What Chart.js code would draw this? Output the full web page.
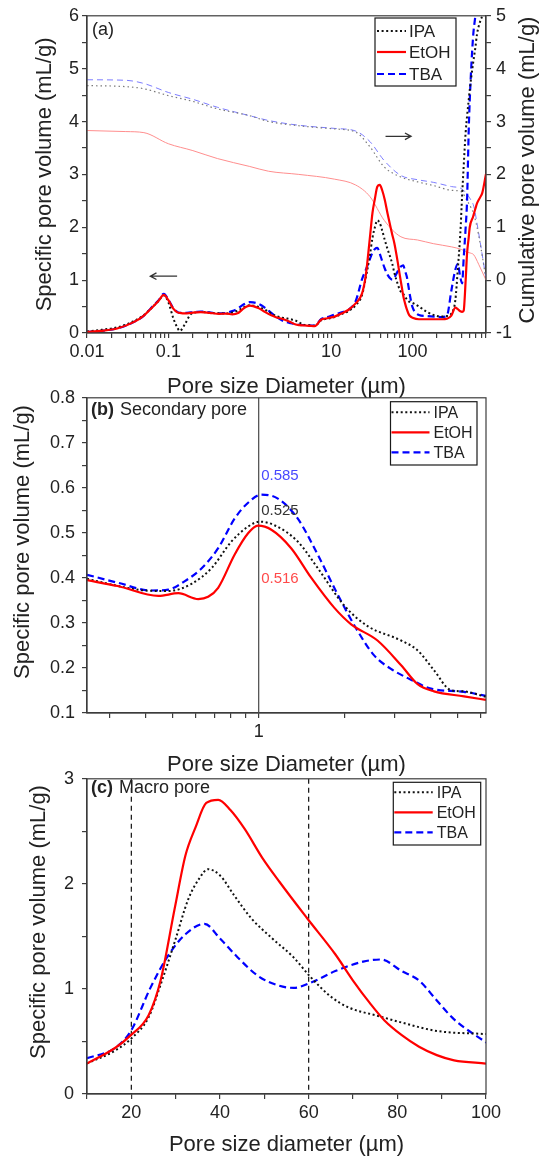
<!DOCTYPE html>
<html>
<head>
<meta charset="utf-8">
<title>Pore size distribution</title>
<script src="https://cdn.jsdelivr.net/npm/chart.js@4.4.0/dist/chart.umd.min.js"></script>
<style>
  html, body { margin: 0; padding: 0; background: #fff; }
  body { width: 548px; height: 1157px; overflow: hidden; position: relative; }
  canvas { position: absolute; left: 0; }
</style>
</head>
<body>
<canvas id="chartA" width="548" height="400" style="top:0px"></canvas>
<canvas id="chartB" width="548" height="400" style="top:380px"></canvas>
<canvas id="chartC" width="548" height="400" style="top:760px"></canvas>
<script>
// ---------- panel (a): full range, log x ----------
const aSize = [0.01, 0.015, 0.024, 0.038, 0.05, 0.061, 0.075, 0.088, 0.1, 0.115, 0.129, 0.138, 0.16, 0.189, 0.22,
  0.25, 0.32, 0.42, 0.52, 0.61, 0.72, 0.82, 0.92, 1.0, 1.1, 1.3, 1.53, 1.84, 2.1, 2.6, 3.2, 3.6, 4.1, 4.7, 5.4, 6.3,
  7.5, 9, 11, 13.5, 16.4, 20, 24, 26.6, 29.8, 32.2, 34.5, 37, 39.6, 42.4, 45.6, 49.5, 53.4, 56.6, 60, 66, 70, 74, 77, 81, 85, 89, 93, 100,
  120, 150, 190, 230, 265, 300, 336, 360, 387, 407, 425, 450, 468, 490, 505, 555, 592, 620, 680, 720, 800];
const aIPA = [0.03, 0.06, 0.11, 0.23, 0.34, 0.46, 0.60, 0.71, 0.58, 0.28, 0.10, 0.04, 0.17, 0.36, 0.39,
  0.398, 0.382, 0.372, 0.371, 0.387, 0.425, 0.479, 0.514, 0.525, 0.518, 0.492, 0.445, 0.370, 0.322, 0.285, 0.260, 0.240, 0.196, 0.151, 0.147, 0.136,
  0.24, 0.27, 0.30, 0.36, 0.415, 0.525, 0.72, 1.04, 1.45, 1.80, 2.00, 2.13, 2.08, 1.94, 1.76, 1.58, 1.43, 1.30, 1.13, 0.92, 0.81, 0.76, 0.74, 0.68, 0.64, 0.60, 0.59, 0.57,
  0.50, 0.40, 0.33, 0.31, 0.32, 0.37, 0.62, 1.20, 1.89, 2.60, 3.14, 3.80, 4.1, 4.4, 4.6, 5.1, 5.4, 5.65, 5.9, 6.0, 6.3];
const aEtOH = [0.02, 0.04, 0.09, 0.21, 0.33, 0.46, 0.60, 0.72, 0.62, 0.46, 0.39, 0.38, 0.37, 0.38, 0.39,
  0.395, 0.382, 0.362, 0.366, 0.353, 0.378, 0.452, 0.499, 0.516, 0.508, 0.466, 0.400, 0.334, 0.298, 0.261, 0.204, 0.164, 0.148, 0.142, 0.136, 0.129,
  0.25, 0.28, 0.31, 0.37, 0.44, 0.56, 0.75, 1.08, 1.77, 2.27, 2.54, 2.77, 2.80, 2.70, 2.52, 2.25, 2.02, 1.85, 1.69, 1.33, 1.08, 0.86, 0.70, 0.56, 0.45, 0.37, 0.32, 0.29,
  0.26, 0.26, 0.26, 0.26, 0.27, 0.33, 0.48, 0.45, 0.41, 0.40, 0.42, 1.0, 1.5, 1.8, 2.0, 2.2, 2.35, 2.45, 2.57, 2.65, 3.01];
const aTBA = [0.02, 0.04, 0.09, 0.21, 0.33, 0.47, 0.61, 0.74, 0.63, 0.47, 0.40, 0.38, 0.38, 0.39, 0.40,
  0.406, 0.389, 0.372, 0.383, 0.414, 0.466, 0.530, 0.567, 0.583, 0.580, 0.548, 0.480, 0.380, 0.310, 0.225, 0.184, 0.168, 0.154, 0.150, 0.146, 0.138,
  0.26, 0.30, 0.35, 0.39, 0.44, 0.60, 1.02, 1.19, 1.39, 1.52, 1.59, 1.61, 1.50, 1.36, 1.22, 1.10, 1.03, 1.01, 1.05, 1.17, 1.24, 1.27, 1.28, 1.17, 1.07, 0.89, 0.71, 0.49,
  0.34, 0.32, 0.31, 0.30, 0.33, 0.80, 1.20, 1.31, 1.05, 0.94, 1.40, 2.0, 2.5, 3.8, 4.4, 5.6, 6.0, 6.3, 6.6, 6.8, 7.0];

// cumulative pore volume (right axis)
const cumSize = [0.01, 0.03, 0.05, 0.1, 0.2, 0.4, 1, 1.7, 4, 11, 20, 30, 45, 72, 115, 180, 300, 400, 470, 520, 565, 650, 800];
const cumIPA = [3.68, 3.66, 3.62, 3.49, 3.38, 3.24, 3.11, 3.00, 2.92, 2.86, 2.80, 2.52, 2.14, 1.95, 1.86, 1.79, 1.70, 1.67, 1.50, 1.38, 1.25, 0.85, 0.02];
const cumEtOH = [2.83, 2.81, 2.79, 2.58, 2.45, 2.30, 2.15, 2.06, 2.00, 1.91, 1.80, 1.58, 1.13, 0.82, 0.76, 0.69, 0.63, 0.58, 0.53, 0.51, 0.48, 0.30, 0.00];
const cumTBA = [3.79, 3.78, 3.72, 3.55, 3.42, 3.27, 3.11, 3.02, 2.93, 2.87, 2.82, 2.62, 2.26, 1.98, 1.90, 1.85, 1.77, 1.73, 1.62, 1.52, 1.40, 0.89, 0.03];

const aXLabels = [0.01, 0.1, 1, 10, 100];
const aYLabels = [0, 1, 2, 3, 4, 5, 6];
const aY2Labels = [-1, 0, 1, 2, 3, 4, 5];

// ---------- panel (b): secondary pore ----------
const bIPASize = [0.25, 0.322, 0.40, 0.482, 0.582, 0.684, 0.803, 0.918, 1.008, 1.137, 1.37, 1.61, 2.0, 2.41, 3.16, 3.61, 4.12, 4.71, 5.25, 6.27];
const bIPA = [0.398, 0.382, 0.372, 0.371, 0.387, 0.422, 0.481, 0.514, 0.525, 0.517, 0.481, 0.422, 0.338, 0.293, 0.261, 0.239, 0.195, 0.151, 0.148, 0.136];
const bEtOHSize = [0.25, 0.32, 0.445, 0.523, 0.614, 0.665, 0.721, 0.824, 0.918, 0.994, 1.108, 1.30, 1.53, 1.84, 2.11, 2.61, 3.16, 3.61, 4.12, 5.25, 6.27];
const bEtOH = [0.395, 0.382, 0.360, 0.366, 0.353, 0.358, 0.378, 0.452, 0.499, 0.516, 0.507, 0.466, 0.400, 0.334, 0.297, 0.261, 0.206, 0.164, 0.148, 0.137, 0.129];
const bTBASize = [0.25, 0.322, 0.421, 0.482, 0.551, 0.630, 0.721, 0.824, 0.918, 1.022, 1.168, 1.37, 1.61, 1.89, 2.22, 2.54, 2.91, 3.42, 4.02, 5.25, 6.27];
const bTBA = [0.407, 0.389, 0.372, 0.374, 0.393, 0.421, 0.466, 0.532, 0.567, 0.585, 0.576, 0.532, 0.452, 0.364, 0.283, 0.228, 0.198, 0.174, 0.154, 0.147, 0.138];
const bXLabels = [1];
const bYLabels = [0.1, 0.2, 0.3, 0.4, 0.5, 0.6, 0.7, 0.8];
const bPeakLabels = ['0.585', '0.525', '0.516'];

// ---------- panel (c): macro pore ----------
const cIPASize = [10, 16.4, 19.9, 23.9, 26.6, 29.8, 32.9, 35.3, 37.3, 40, 43.2, 47.1, 51.8, 56.6, 60.5, 65.2, 69.2, 75.5, 81, 88.9, 100];
const cIPA = [0.29, 0.415, 0.525, 0.73, 1.04, 1.45, 1.86, 2.05, 2.14, 2.08, 1.89, 1.67, 1.48, 1.30, 1.11, 0.92, 0.82, 0.745, 0.68, 0.60, 0.57];
const cEtOHSize = [10, 16.4, 19.9, 23.9, 26.6, 29.8, 32.2, 34.5, 36.9, 39.6, 42.4, 45.6, 49.5, 53.4, 59.7, 66, 70, 73.9, 77.1, 81, 84.9, 88.9, 92.8, 100];
const cEtOH = [0.29, 0.44, 0.56, 0.75, 1.08, 1.77, 2.27, 2.54, 2.77, 2.80, 2.70, 2.52, 2.25, 2.02, 1.67, 1.33, 1.08, 0.86, 0.70, 0.56, 0.45, 0.37, 0.32, 0.29];
const cTBASize = [10, 16.4, 19.9, 24.3, 28.2, 32.2, 36.5, 40, 44, 48.7, 53.4, 56.6, 60.5, 66, 72.3, 76.3, 81, 84.9, 88.9, 92.8, 100];
const cTBA = [0.34, 0.44, 0.60, 1.01, 1.31, 1.52, 1.62, 1.48, 1.30, 1.12, 1.03, 1.01, 1.06, 1.17, 1.26, 1.28, 1.17, 1.08, 0.89, 0.71, 0.49];
const cXLabels = [20, 40, 60, 80, 100];
const cYLabels = [0, 1, 2, 3];
const cGuides = [20, 60];

// ---------- styling ----------
const FONT = '"Liberation Sans", Arial, Helvetica, sans-serif';
const INK = '#222';
const AXIS = '#3c3c3c';
Chart.defaults.font.family = FONT;
Chart.defaults.color = INK;

const STYLE = {
  IPA: { color: '#111', dash: [2, 2.6], width: 2 },
  EtOH: { color: '#ff0000', dash: [], width: 2.2 },
  TBA: { color: '#0000ff', dash: [7, 4], width: 2.2 },
  cumIPA: { color: '#7a7a7a', dash: [1.5, 3], width: 1.2 },
  cumEtOH: { color: '#ff8e8e', dash: [], width: 1 },
  cumTBA: { color: '#7d7dff', dash: [6, 4], width: 1 }
};

function series(label, xs, ys, st, extra) {
  return Object.assign({
    label: label,
    data: xs.map((x, i) => ({ x: x, y: ys[i] })),
    borderColor: st.color, borderDash: st.dash, borderWidth: st.width,
    pointRadius: 0, pointHoverRadius: 0, fill: false,
    cubicInterpolationMode: 'monotone'
  }, extra || {});
}

function logTicks(min, max) {
  const out = [];
  for (let e = Math.floor(Math.log10(min)); e <= Math.ceil(Math.log10(max)); e++) {
    for (let m = 1; m <= 9; m++) {
      const v = +(m * Math.pow(10, e)).toPrecision(6);
      if (v >= min - 1e-12 && v <= max + 1e-9) out.push(v);
    }
  }
  return out;
}
function stepTicks(min, max, step) {
  const out = [];
  const n = Math.round((max - min) / step);
  for (let i = 0; i <= n; i++) out.push(+(min + i * step).toFixed(6));
  return out;
}
function labelFrom(list, fmt) {
  return v => {
    const m = list.find(l => Math.abs(l - v) < 1e-6 * Math.max(1, Math.abs(l)));
    return m === undefined ? '' : fmt(m);
  };
}

function axis(o) {
  return {
    type: o.type || 'linear', position: o.position, min: o.min, max: o.max,
    afterBuildTicks: s => { s.ticks = o.ticks.map(v => ({ value: v })); },
    afterFit: s => { if (o.width !== undefined) s.width = o.width; if (o.height !== undefined) s.height = o.height; },
    border: { display: true, color: AXIS, width: 1.2 },
    grid: { drawOnChartArea: false, drawTicks: true, tickLength: 5, color: AXIS, lineWidth: 1.2 },
    ticks: {
      autoSkip: false, maxRotation: 0, minRotation: 0, padding: o.tickPad,
      color: INK, font: { size: 18 }, callback: labelFrom(o.labels, o.fmt || String)
    },
    title: {
      display: !!o.title, text: o.title, color: INK, font: { size: 22, lineHeight: 1.2 },
      padding: { top: o.titlePad || 0, bottom: o.titlePad || 0 }
    }
  };
}

// rotated axis title drawn by hand (reads bottom to top)
function sideTitle(ctx, text, x, y) {
  ctx.save();
  ctx.translate(x, y);
  ctx.rotate(-Math.PI / 2);
  ctx.textAlign = 'center';
  ctx.textBaseline = 'middle';
  ctx.font = '22px ' + FONT;
  ctx.fillStyle = INK;
  ctx.fillText(text, 0, 0);
  ctx.restore();
}

// boxed legend in the Origin style
function boxLegend(id, cfg) {
  return {
    id: id,
    afterDraw(chart) {
      const ctx = chart.ctx;
      ctx.save();
      ctx.strokeStyle = '#1a1a1a';
      ctx.lineWidth = 1.2;
      ctx.strokeRect(cfg.box[0], cfg.box[1], cfg.box[2] - cfg.box[0], cfg.box[3] - cfg.box[1]);
      ctx.font = cfg.size + 'px ' + FONT;
      ctx.textBaseline = 'middle';
      cfg.items.forEach((di, k) => {
        const ds = chart.data.datasets[di];
        const y = cfg.rows[k];
        ctx.beginPath();
        ctx.setLineDash(ds.borderDash || []);
        ctx.strokeStyle = ds.borderColor;
        ctx.lineWidth = ds.borderWidth;
        ctx.moveTo(cfg.sample[0], y);
        ctx.lineTo(cfg.sample[1], y);
        ctx.stroke();
        ctx.setLineDash([]);
        ctx.fillStyle = INK;
        ctx.fillText(ds.label, cfg.textX, y + 1);
      });
      ctx.restore();
    }
  };
}

const frame = {
  id: 'frame',
  afterDraw(chart) {
    const { ctx, chartArea: a } = chart;
    ctx.save();
    ctx.strokeStyle = AXIS;
    ctx.lineWidth = 1.2;
    ctx.strokeRect(a.left, a.top, a.right - a.left, a.bottom - a.top);
    ctx.restore();
  }
};

function arrow(ctx, x0, y0, x1, y1) {
  const a = Math.atan2(y1 - y0, x1 - x0), h = 7;
  ctx.beginPath();
  ctx.strokeStyle = '#333';
  ctx.lineWidth = 1.3;
  ctx.moveTo(x0, y0);
  ctx.lineTo(x1, y1);
  ctx.moveTo(x1 - h * Math.cos(a - 0.5), y1 - h * Math.sin(a - 0.5));
  ctx.lineTo(x1, y1);
  ctx.lineTo(x1 - h * Math.cos(a + 0.5), y1 - h * Math.sin(a + 0.5));
  ctx.stroke();
}

function panelTag(ctx, tag, text, x, y) {
  ctx.textBaseline = 'middle';
  ctx.fillStyle = INK;
  ctx.font = 'bold 18px ' + FONT;
  ctx.fillText(tag, x, y);
  const w = ctx.measureText(tag + ' ').width;
  ctx.font = '18px ' + FONT;
  ctx.fillText(text, x + w + 1, y);
}

const baseOpts = {
  responsive: false, animation: false, devicePixelRatio: 1,
  plugins: { legend: { display: false }, tooltip: { enabled: false } },
  elements: { line: { tension: 0.3 } }
};

// ---------- chart (a) ----------
new Chart(document.getElementById('chartA'), {
  type: 'line',
  data: {
    datasets: [
      series('IPA', aSize, aIPA, STYLE.IPA, { order: 1 }),
      series('EtOH', aSize, aEtOH, STYLE.EtOH, { order: 0 }),
      series('TBA', aSize, aTBA, STYLE.TBA, { order: 2 }),
      series('IPA cumulative', cumSize, cumIPA, STYLE.cumIPA, { yAxisID: 'y2', order: 3 }),
      series('EtOH cumulative', cumSize, cumEtOH, STYLE.cumEtOH, { yAxisID: 'y2', order: 3 }),
      series('TBA cumulative', cumSize, cumTBA, STYLE.cumTBA, { yAxisID: 'y2', order: 3 })
    ]
  },
  options: Object.assign({}, baseOpts, {
    layout: { padding: { top: 15, left: 0, right: 0, bottom: 0 } },
    scales: {
      x: axis({ type: 'logarithmic', position: 'bottom', min: 0.01, max: 800, ticks: logTicks(0.01, 800),
        labels: aXLabels, height: 67, tickPad: 3, title: 'Pore size Diameter (\u00b5m)', titlePad: 0 }),
      y: axis({ position: 'left', min: 0, max: 6, ticks: stepTicks(0, 6, 0.5), labels: aYLabels,
        width: 87, tickPad: 3, title: 'Specific pore volume (mL/g)', titlePad: 32 }),
      y2: axis({ position: 'right', min: -1, max: 5, ticks: stepTicks(-1, 5, 0.5), labels: aY2Labels,
        width: 62, tickPad: 5 })
    }
  }),
  plugins: [frame, boxLegend('legendA', { box: [375, 18, 456, 86], rows: [31, 52, 74], sample: [377, 406], textX: 409, size: 17, items: [0, 1, 2] }), {
    id: 'notesA',
    afterDraw(chart) {
      const { ctx, scales: { x, y } } = chart;
      ctx.save();
      ctx.fillStyle = INK;
      ctx.font = '18px ' + FONT;
      ctx.textBaseline = 'middle';
      ctx.fillText('(a)', 92, 30);
      arrow(ctx, x.getPixelForValue(0.128), y.getPixelForValue(1.075), x.getPixelForValue(0.06), y.getPixelForValue(1.075));
      arrow(ctx, x.getPixelForValue(46.6), y.getPixelForValue(3.72), x.getPixelForValue(96), y.getPixelForValue(3.72));
      ctx.restore();
      sideTitle(ctx, 'Cumulative pore volume (mL/g)', 528, 170);
    }
  }]
});

// ---------- chart (b) ----------
new Chart(document.getElementById('chartB'), {
  type: 'line',
  data: {
    datasets: [
      series('IPA', bIPASize, bIPA, STYLE.IPA, { order: 1 }),
      series('EtOH', bEtOHSize, bEtOH, STYLE.EtOH, { order: 0 }),
      series('TBA', bTBASize, bTBA, STYLE.TBA, { order: 2 })
    ]
  },
  options: Object.assign({}, baseOpts, {
    layout: { padding: { top: 15, left: 0, right: 62, bottom: 0 } },
    scales: {
      x: axis({ type: 'logarithmic', position: 'bottom', min: 0.25, max: 6.27, ticks: logTicks(0.25, 6.27),
        labels: bXLabels, height: 67, tickPad: 3, title: 'Pore size Diameter (\u00b5m)', titlePad: 2 }),
      y: axis({ position: 'left', min: 0.1, max: 0.8, ticks: stepTicks(0.1, 0.8, 0.05), labels: bYLabels,
        fmt: v => v.toFixed(1), width: 87, tickPad: 7 })
    }
  }),
  plugins: [frame, boxLegend('legendB', { box: [390.5, 21.7, 477, 85], rows: [32.3, 52.3, 72.3], sample: [391.5, 429.5], textX: 433.5, size: 16, items: [0, 1, 2] }), {
    id: 'notesB',
    beforeDatasetsDraw(chart) {
      const { ctx, chartArea: a, scales: { x } } = chart;
      ctx.save();
      ctx.strokeStyle = '#555';
      ctx.lineWidth = 1.3;
      ctx.beginPath();
      const px = x.getPixelForValue(1);
      ctx.moveTo(px, a.top);
      ctx.lineTo(px, a.bottom);
      ctx.stroke();
      ctx.restore();
    },
    afterDraw(chart) {
      const { ctx, scales: { x, y } } = chart;
      ctx.save();
      panelTag(ctx, '(b)', 'Secondary pore', 91, 30);
      ctx.font = '15px ' + FONT;
      ctx.textBaseline = 'middle';
      const lx = x.getPixelForValue(1) + 2.5;
      const spots = [[0.626, '#4848ff'], [0.549, '#333'], [0.397, '#ff4a4a']];
      bPeakLabels.forEach((t, i) => {
        ctx.fillStyle = spots[i][1];
        ctx.fillText(t, lx, y.getPixelForValue(spots[i][0]));
      });
      ctx.restore();
      sideTitle(ctx, 'Specific pore volume (mL/g)', 23, 162);
    }
  }]
});

// ---------- chart (c) ----------
new Chart(document.getElementById('chartC'), {
  type: 'line',
  data: {
    datasets: [
      series('IPA', cIPASize, cIPA, STYLE.IPA, { order: 1 }),
      series('EtOH', cEtOHSize, cEtOH, STYLE.EtOH, { order: 0 }),
      series('TBA', cTBASize, cTBA, STYLE.TBA, { order: 2 })
    ]
  },
  options: Object.assign({}, baseOpts, {
    layout: { padding: { top: 16, left: 0, right: 62, bottom: 0 } },
    scales: {
      x: axis({ position: 'bottom', min: 10, max: 100, ticks: stepTicks(10, 100, 10), labels: cXLabels,
        height: 66, tickPad: 3, title: 'Pore size diameter (\u00b5m)', titlePad: 2 }),
      y: axis({ position: 'left', min: 0, max: 3, ticks: stepTicks(0, 3, 0.5), labels: cYLabels,
        width: 87, tickPad: 8 })
    }
  }),
  plugins: [frame, boxLegend('legendC', { box: [393.3, 22.3, 480.7, 85], rows: [32.3, 52.3, 72.3], sample: [394.3, 432.7], textX: 436.7, size: 16, items: [0, 1, 2] }), {
    id: 'notesC',
    beforeDatasetsDraw(chart) {
      const { ctx, chartArea: a, scales: { x } } = chart;
      ctx.save();
      ctx.strokeStyle = '#111';
      ctx.lineWidth = 1.2;
      ctx.setLineDash([5, 4]);
      cGuides.forEach(g => {
        const px = x.getPixelForValue(g);
        ctx.beginPath();
        ctx.moveTo(px, a.top);
        ctx.lineTo(px, a.bottom);
        ctx.stroke();
      });
      ctx.restore();
    },
    afterDraw(chart) {
      const ctx = chart.ctx;
      ctx.save();
      panelTag(ctx, '(c)', 'Macro pore', 91, 28);
      ctx.restore();
      sideTitle(ctx, 'Specific pore volume (mL/g)', 38.5, 162);
    }
  }]
});
</script>
</body>
</html>
